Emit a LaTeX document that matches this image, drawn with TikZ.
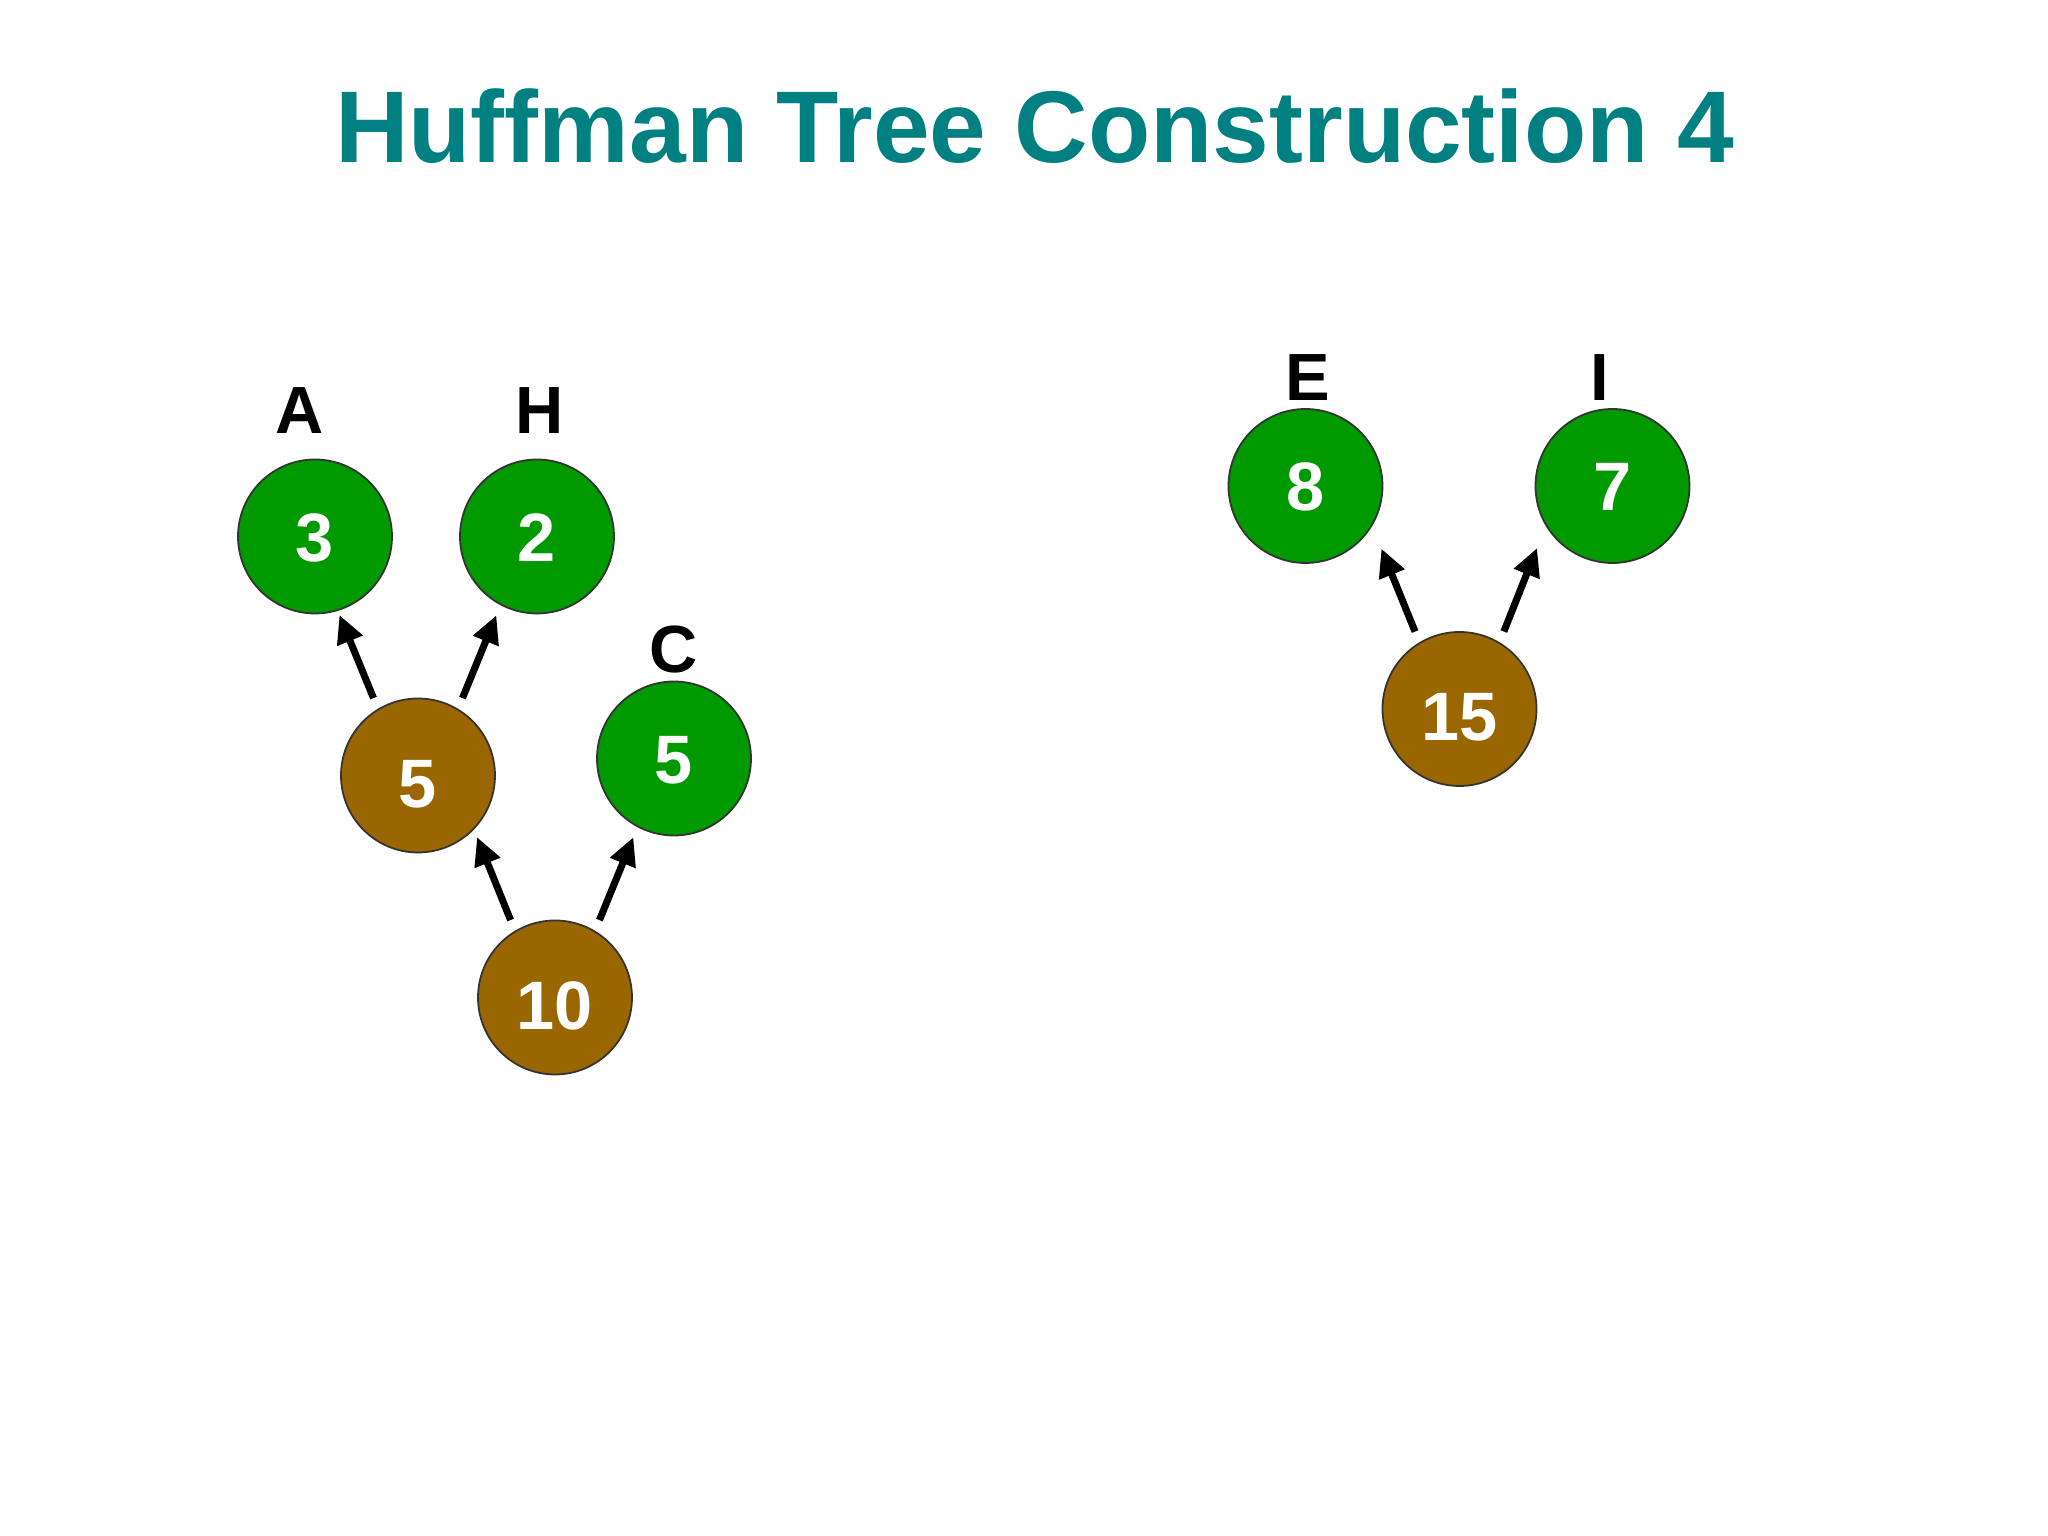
\documentclass[tikz,border=0pt]{standalone}
\usepackage{fontspec}
\setmainfont{Liberation Sans}
\usetikzlibrary{arrows.meta}

\definecolor{leafgreen}{HTML}{009900}
\definecolor{sumbrown}{HTML}{996600}
\definecolor{titleteal}{HTML}{008080}

\tikzset{node distance=2.39cm}
\tikzset{
  wt/.style={circle, draw=black!80, line width=0.5pt, minimum size=1.54cm, inner sep=0pt,
    text=white, font=\fontsize{19.5}{23}\selectfont\bfseries},
  leaf/.style={wt, fill=leafgreen, text height=0.5cm, text depth=0pt},
  sum/.style={wt, fill=sumbrown, text height=0.64cm, text depth=0pt},
  lbl/.style={inner sep=0pt, text height=0.48cm, text depth=0pt,
    font=\fontsize{19}{23}\selectfont\bfseries},
  arr/.style={line width=2pt, -{Triangle[length=0.28cm,width=0.26cm]}},
  title/.style={anchor=base, text=titleteal, font=\fontsize{29}{34}\selectfont\bfseries}
}

\begin{document}
\begin{tikzpicture}
      \useasboundingbox[fill=white] (0,0) rectangle (20.48,15.36);
      \node [title] (head) at (10.345,13.73) {Huffman Tree Construction 4};

      % left tree
      \node [sum] (ten) at (5.55,5.385) {10};
      \node [sum,above of=ten,xshift=-1.37cm,yshift=-0.17cm] (five) {5};
      \node [leaf,above of=ten,xshift=1.19cm] (c) {5};
      \node [leaf,above of=five,xshift=-1.03cm] (a) {3};
      \node [leaf,above of=five,xshift=1.19cm] (h) {2};
      % right tree
      \node [sum] (fifteen) at (14.595,8.27) {15};
      \node [leaf,above of=fifteen,xshift=-1.54cm,yshift=-0.16cm] (e) {8};
      \node [leaf,above of=fifteen,xshift=1.53cm,yshift=-0.16cm] (i) {7};

      % letters
      \node [lbl,above of=a,node distance=1.27cm,xshift=-0.15cm] (la) {A};
      \node [lbl,above of=h,node distance=1.27cm,xshift=0.03cm] (lh) {H};
      \node [lbl,above of=c,node distance=1.1cm] (lc) {C};
      \node [lbl,above of=e,node distance=1.09cm,xshift=0.02cm] (le) {E};
      \node [lbl,above of=i,node distance=1.09cm,xshift=-0.125cm] (li) {I};

      % links
      \draw [arr,shorten <=0.115cm,shorten >=0.08cm] (ten.121) -- (five.-44);
      \draw [arr,shorten <=0.115cm,shorten >=0.107cm] (ten.59) -- (c.-118);
      \draw [arr,shorten <=0.115cm,shorten >=0.043cm] (five.121) -- (a.-73);
      \draw [arr,shorten <=0.115cm,shorten >=0.107cm] (five.59) -- (h.-118);
      \draw [arr,shorten <=0.115cm,shorten >=0.243cm] (fifteen.121) -- (e.-31);
      \draw [arr,shorten <=0.115cm,shorten >=0.235cm] (fifteen.59) -- (i.-149);
    \end{tikzpicture}
\end{document}
